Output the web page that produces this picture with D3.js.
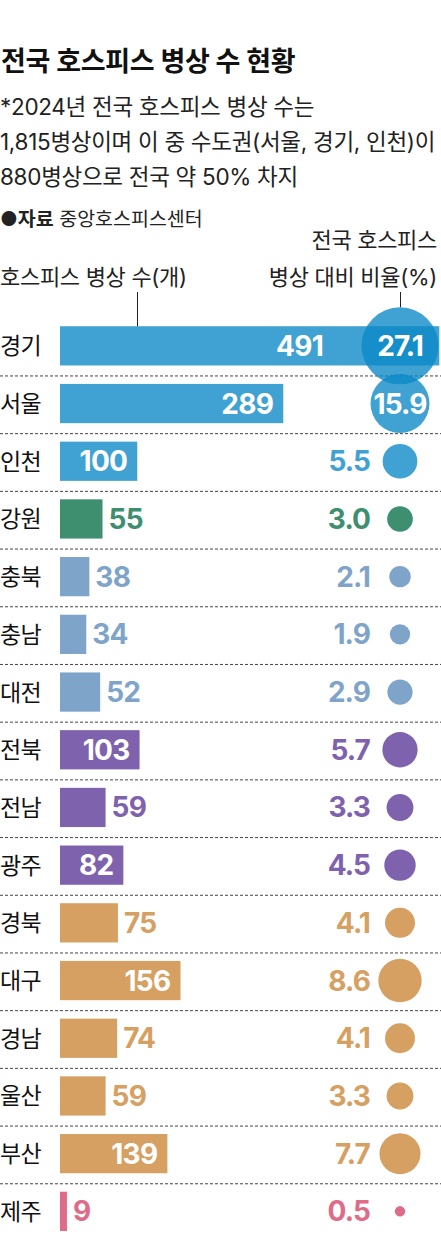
<!DOCTYPE html>
<html lang="ko">
<head>
<meta charset="utf-8">
<script src="https://cdn.jsdelivr.net/npm/d3@7"></script>
<style>
  body { margin: 0; background: #fff; }
  svg { display: block; font-family: Inter, "Noto Sans CJK KR", "Noto Sans", sans-serif; }
</style>
</head>
<body>
<svg id="chart"></svg>
<script>
// data
const regions = ['경기', '서울', '인천', '강원', '충북', '충남', '대전', '전북', '전남', '광주', '경북', '대구', '경남', '울산', '부산', '제주'];
const beds = [491, 289, 100, 55, 38, 34, 52, 103, 59, 82, 75, 156, 74, 59, 139, 9];
const shares = [27.1, 15.9, 5.5, 3.0, 2.1, 1.9, 2.9, 5.7, 3.3, 4.5, 4.1, 8.6, 4.1, 3.3, 7.7, 0.5];
const groups = ['수도권', '수도권', '수도권', '강원', '충청', '충청', '충청', '호남', '호남', '호남', '영남', '영남', '영남', '영남', '영남', '제주'];
const groupNames = ['수도권', '강원', '충청', '호남', '영남', '제주'];
const groupColors = ['#40a2d3', '#3e8f6f', '#7fa4c9', '#7f62ad', '#d5a062', '#e06b88'];

const title = '전국 호스피스 병상 수 현황';
const notes = ['*2024년 전국 호스피스 병상 수는', '1,815병상이며 이 중 수도권(서울, 경기, 인천)이', '880병상으로 전국 약 50% 차지'];

//chart measures
const width = 441;
const height = 1249;
const rowTop = 317;
const rowStep = 57.7;

const rows = regions.map((r, i) => ({ region: r, beds: beds[i], share: shares[i], group: groups[i] }));

const svg = d3.select('#chart').attr('width', width).attr('height', height).attr('viewBox', `0 0 ${width} ${height}`);

const x = d3.scaleLinear().domain([0, 491]).range([60, 439.3]);
const y = d3.scaleBand().domain(regions).range([rowTop, rowTop + rowStep * regions.length]).paddingInner(0.32).paddingOuter(0.16);
const r = d3.scaleSqrt().domain([0, 27.1]).range([0, 38.5]);
const color = d3.scaleOrdinal().domain(groupNames).range(groupColors);
const fmt = d3.format('.1f');
const cx = 400;

// bubbles are see-through: pick a deeper fill so that on white it still shows the group colour
const alpha = 0.78;
const bubbleFill = c => {
  const b = d3.rgb(c);
  const f = v => Math.max(0, Math.min(255, (v - (1 - alpha) * 255) / alpha));
  return d3.rgb(f(b.r), f(b.g), f(b.b)).formatHex();
};

// header
svg.append('text').attr('x', 1).attr('y', 71).attr('font-size', 27).attr('font-weight', 700)
  .attr('letter-spacing', -0.3).attr('fill', '#111').text(title);

svg.append('g').selectAll('text').data(notes).join('text')
  .attr('x', 0).attr('y', (d, i) => 114.5 + i * 35)
  .attr('font-size', 22.5).attr('letter-spacing', -0.3).attr('fill', '#222').text(d => d);

const src = svg.append('text').attr('x', 0).attr('y', 226).attr('font-size', 19.5).attr('fill', '#222').attr('letter-spacing', 0);
src.append('tspan').attr('font-weight', 700).text('●자료');
src.append('tspan').text(' 중앙호스피스센터');

svg.append('text').attr('x', 437).attr('y', 248).attr('text-anchor', 'end').attr('font-size', 22)
  .attr('letter-spacing', -0.3).attr('fill', '#222').text('전국 호스피스');
svg.append('text').attr('x', 437).attr('y', 285).attr('text-anchor', 'end').attr('font-size', 22)
  .attr('letter-spacing', -0.3).attr('fill', '#222').text('병상 대비 비율(%)');
svg.append('text').attr('x', 0).attr('y', 285).attr('font-size', 22)
  .attr('letter-spacing', -0.3).attr('fill', '#222').text('호스피스 병상 수(개)');

// separators
svg.append('g').selectAll('line').data(regions.slice(0, -1)).join('line')
  .attr('x1', 0).attr('x2', width)
  .attr('y1', d => y(d) + y.bandwidth() + 10.5).attr('y2', d => y(d) + y.bandwidth() + 10.5)
  .attr('stroke', '#444').attr('stroke-width', 1).attr('stroke-dasharray', '3,2');

// region names
svg.append('g').selectAll('text').data(rows).join('text')
  .attr('x', 0).attr('y', d => y(d.region) + y.bandwidth() / 2 + 8.5)
  .attr('font-size', 23).attr('letter-spacing', -0.6).attr('fill', '#111').text(d => d.region);

// bars
svg.append('g').selectAll('rect').data(rows).join('rect')
  .attr('x', x(0)).attr('y', d => y(d.region))
  .attr('width', d => x(d.beds) - x(0)).attr('height', y.bandwidth())
  .attr('fill', d => color(d.group));

// leader lines
svg.append('line').attr('x1', 137.5).attr('x2', 137.5).attr('y1', 292).attr('y2', y(regions[0]))
  .attr('stroke', '#222').attr('stroke-width', 1);
svg.append('line').attr('x1', cx + 0.5).attr('x2', cx + 0.5).attr('y1', 292)
  .attr('y2', y(regions[0]) + y.bandwidth() / 2 - r(shares[0]))
  .attr('stroke', '#222').attr('stroke-width', 1);

// bar values
const inside = d => d.beds >= 80;
svg.append('g').selectAll('text').data(rows).join('text')
  .attr('x', d => inside(d) ? Math.min(x(d.beds) - 10, 323) : x(d.beds) + 6)
  .attr('y', d => y(d.region) + y.bandwidth() / 2 + 10)
  .attr('text-anchor', d => inside(d) ? 'end' : 'start')
  .attr('font-size', 28).attr('font-weight', 700).attr('letter-spacing', -0.7)
  .attr('fill', d => inside(d) ? '#fff' : color(d.group))
  .text(d => d.beds);

// share bubbles
svg.append('g').selectAll('circle').data(rows).join('circle')
  .attr('cx', cx).attr('cy', d => y(d.region) + y.bandwidth() / 2)
  .attr('r', d => r(d.share))
  .attr('fill', d => bubbleFill(color(d.group)))
  .attr('fill-opacity', alpha);

const big = d => d.share >= 10;
svg.append('g').selectAll('text').data(rows).join('text')
  .attr('x', d => big(d) ? cx : 370)
  .attr('y', d => y(d.region) + y.bandwidth() / 2 + 10)
  .attr('text-anchor', d => big(d) ? 'middle' : 'end')
  .attr('font-size', 28).attr('font-weight', 700).attr('letter-spacing', -0.9)
  .attr('fill', d => big(d) ? '#fff' : color(d.group))
  .text(d => fmt(d.share));
</script>
</body>
</html>
